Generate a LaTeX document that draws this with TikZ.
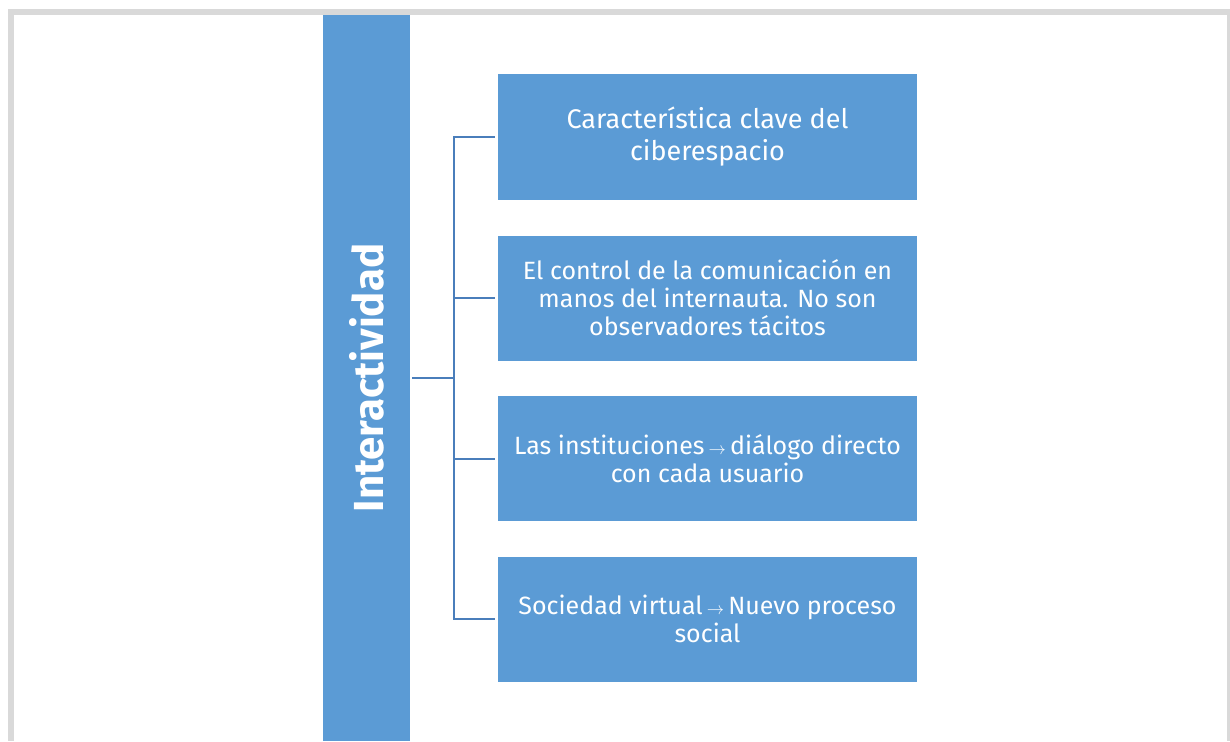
\documentclass[tikz,border=0pt]{standalone}
\usepackage{fontspec}
\setmainfont{Fira Sans}
\usepackage{graphicx}
\definecolor{boxblue}{HTML}{5B9BD5}
\definecolor{linkblue}{HTML}{4A7EBB}
\definecolor{framegray}{HTML}{D9D9D9}
\newcommand{\smallarrow}{\,{\fontsize{17}{17}\selectfont$\rightarrow$}\,}
\begin{document}
\begin{tikzpicture}[x=1pt,y=-1pt,
  idea/.style={fill=boxblue,text=white,minimum width=419pt,minimum height=125pt,
    align=center,inner sep=0pt,font=\fontsize{25}{28}\selectfont},
  topicbar/.style={fill=boxblue,text=white,minimum width=87pt,minimum height=726pt,
    inner sep=0pt,font=\fontsize{42}{42}\selectfont\bfseries},
  link/.style={draw=linkblue,line width=2pt}]
  \useasboundingbox (0,0) rectangle (1230,741);
  \fill[framegray] (8,9) rectangle (1230,741);
  \fill[white] (14,15) rectangle (1227,741);

  \node[topicbar] (topic) at (366.5,378) {\rotatebox{90}{Interactividad}};

  \node[idea,font=\fontsize{27}{32}\selectfont] (b1) at (707.5,137) {Característica clave del\\ciberespacio};
  \node[idea] (b2) at (707.5,298) {El control de la comunicación en\\manos del internauta. No son\\observadores tácitos};
  \node[idea] (b3) at (707.5,458.5) {Las instituciones\smallarrow diálogo directo\\con cada usuario};
  \node[idea] (b4) at (707.5,619) {Sociedad virtual\smallarrow Nuevo proceso\\social};

  \draw[link] (topic.east) ++(2,0) -- ++(42,0) coordinate (hub);
  \draw[link] (hub) |- ([xshift=-3pt]b1.west);
  \draw[link] (hub) |- ([xshift=-3pt]b4.west);
  \draw[link] (hub |- b2.west) -- ([xshift=-3pt]b2.west);
  \draw[link] (hub |- b3.west) -- ([xshift=-3pt]b3.west);
\end{tikzpicture}
\end{document}
